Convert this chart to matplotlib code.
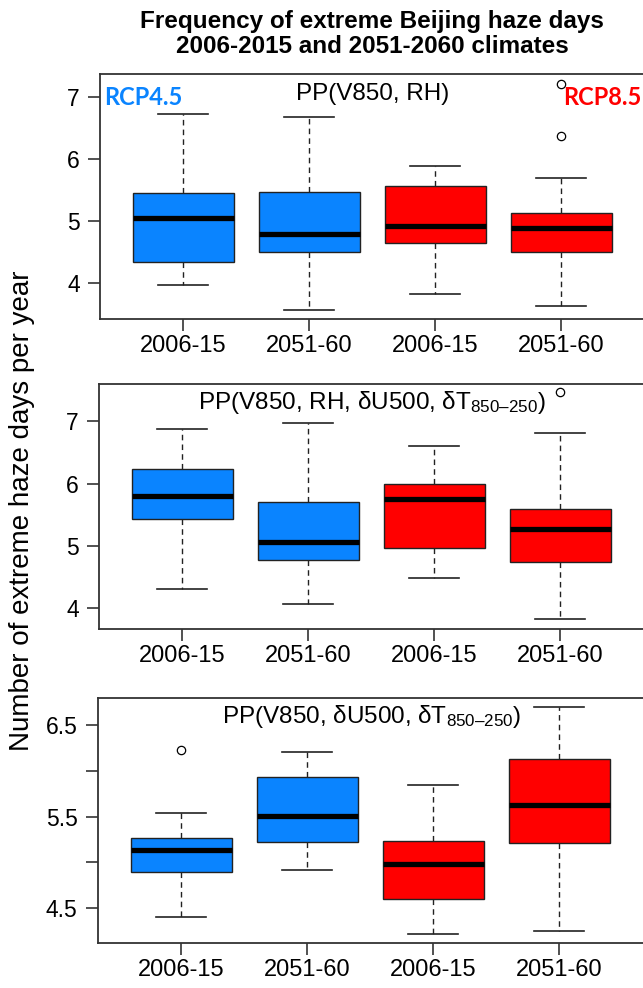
import numpy as np
import matplotlib
matplotlib.use("Agg")
import matplotlib.pyplot as plt

plt.rcParams['font.family'] = ['Liberation Sans', 'DejaVu Sans']
plt.rcParams['mathtext.fontset'] = 'custom'
plt.rcParams['mathtext.rm'] = 'Liberation Sans'
plt.rcParams['mathtext.it'] = 'Liberation Sans'

labels = ["2006-15", "2051-60", "2006-15", "2051-60"]
box_colors = ["#0A84FF", "#0A84FF", "#FF0000", "#FF0000"]

# panel 1: PP(V850, RH)
p1_med = [5.05, 4.79, 4.91, 4.88]
p1_q1 = [4.34, 4.50, 4.65, 4.50]
p1_q3 = [5.45, 5.47, 5.56, 5.13]
p1_lo = [3.96, 3.56, 3.82, 3.63]
p1_hi = [6.73, 6.68, 5.88, 5.69]
p1_fliers = [[], [], [], [7.22, 6.38]]

# panel 2: PP(V850, RH, dU500, dT)
p2_med = [5.80, 5.06, 5.75, 5.27]
p2_q1 = [5.43, 4.78, 4.97, 4.74]
p2_q3 = [6.24, 5.71, 5.99, 5.60]
p2_lo = [4.31, 4.07, 4.48, 3.82]
p2_hi = [6.87, 6.97, 6.61, 6.82]
p2_fliers = [[], [], [], [7.47]]

# panel 3: PP(V850, dU500, dT)
p3_med = [5.13, 5.51, 4.98, 5.63]
p3_q1 = [4.89, 5.22, 4.60, 5.21]
p3_q3 = [5.27, 5.93, 5.23, 6.13]
p3_lo = [4.40, 4.91, 4.21, 4.25]
p3_hi = [5.54, 6.21, 5.85, 6.70]
p3_fliers = [[6.23], [], [], []]

panels = [
    (p1_med, p1_q1, p1_q3, p1_lo, p1_hi, p1_fliers),
    (p2_med, p2_q1, p2_q3, p2_lo, p2_hi, p2_fliers),
    (p3_med, p3_q1, p3_q3, p3_lo, p3_hi, p3_fliers),
]
titles = ["PP(V850, RH)",
          "PP(V850, RH, \u03b4U500, \u03b4T$_{850\u2013250}$)",
          "PP(V850, \u03b4U500, \u03b4T$_{850\u2013250}$)"]
ylims = [(3.41, 7.37), (3.67, 7.60), (4.11, 6.80)]
yticks = [[4, 5, 6, 7], [4, 5, 6, 7], [4.5, 5.0, 5.5, 6.0, 6.5]]
yticklabels = [["4", "5", "6", "7"], ["4", "5", "6", "7"], ["4.5", "", "5.5", "", "6.5"]]

W, H = 643, 988
fig = plt.figure(figsize=(W / 100, H / 100), dpi=100)

# pixel boxes: left, top, bottom
boxes_px = [(100, 74.3, 319.3), (99, 384, 628.7), (98, 698, 943.3)]
right_px = 645

for i, (left, top, bot) in enumerate(boxes_px):
    ax = fig.add_axes([left / W, 1 - bot / H, (right_px - left) / W, (bot - top) / H])
    med, q1, q3, lo, hi, fl = panels[i]
    stats = []
    for k in range(4):
        stats.append(dict(med=med[k], q1=q1[k], q3=q3[k], whislo=lo[k], whishi=hi[k],
                          fliers=np.array(fl[k])))
    bp = ax.bxp(stats, positions=[1, 2, 3, 4], widths=0.8, capwidths=0.4,
                patch_artist=True, showfliers=True,
                boxprops=dict(edgecolor="#222222", linewidth=1.0),
                medianprops=dict(color="black", linewidth=3.8, solid_capstyle="butt"),
                whiskerprops=dict(color="#222222", linewidth=1.0, linestyle=(0, (4, 3))),
                capprops=dict(color="#222222", linewidth=1.2),
                flierprops=dict(marker="o", markerfacecolor="none", markeredgecolor="black",
                                markersize=6, markeredgewidth=0.9))
    for patch, c in zip(bp["boxes"], box_colors):
        patch.set_facecolor(c)
    ax.set_xlim(0.34, 0.34 + (right_px - left) / 126.0)
    ax.set_ylim(*ylims[i])
    ax.set_xticks([1, 2, 3, 4])
    ax.set_xticklabels(labels, fontsize=17)
    ax.set_yticks(yticks[i])
    ax.set_yticklabels(yticklabels[i], fontsize=16.5)
    ax.tick_params(direction="out", length=8.6, width=1.2, color="#333333", pad=6)
    ax.tick_params(axis="x", pad=3)
    for s in ax.spines.values():
        s.set_linewidth(1.3)
        s.set_color("#333333")
    ax.text(0.5, 0.92 if i == 0 else 0.925, titles[i], transform=ax.transAxes,
            ha="center", va="center", fontsize=17.5)
    if i == 0:
        ax.text(0.008, 0.905, "RCP4.5", transform=ax.transAxes, ha="left", va="center",
                fontsize=17, fontweight="bold", color="#0A84FF", family="Lato")
        ax.text(0.8495, 0.905, "RCP8.5", transform=ax.transAxes, ha="left", va="center",
                fontsize=17, fontweight="bold", color="#FF0000", family="Lato")

fig.text(372 / W, 1 - 34 / H, "Frequency of extreme Beijing haze days\n2006-2015 and 2051-2060 climates",
         ha="center", va="center", fontsize=17.5, fontweight="bold", linespacing=1.1)
fig.text(22 / W, 1 - 511 / H, "Number of extreme haze days per year", rotation=90,
         ha="center", va="center", fontsize=20)

fig.savefig("out.png", dpi=100)
